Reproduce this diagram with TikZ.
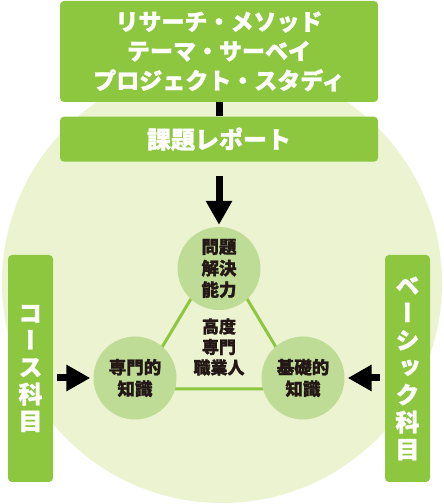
\documentclass[tikz,border=0pt]{standalone}
\usepackage{fontspec}
\setmainfont{Noto Sans CJK JP}[BoldFeatures={FakeBold=1.2}]
\newfontfamily\vertjp{Noto Sans CJK JP}[RawFeature=+vert, BoldFeatures={FakeBold=1.2}]
\usetikzlibrary{arrows.meta}

\definecolor{leafgreen}{RGB}{141,198,63}
\definecolor{palegreen}{RGB}{236,243,208}
\definecolor{midgreen}{RGB}{190,220,150}
\definecolor{inkblack}{RGB}{35,24,21}

\begin{document}
\begin{tikzpicture}[
    x=1pt, y=1pt,
    greenbox/.style={rectangle, fill=leafgreen, rounded corners=4pt, inner sep=0pt, text=white, align=center},
    knowbox/.style={circle, fill=midgreen, minimum size=83pt, inner sep=0pt, align=center, text=inkblack, font=\fontsize{17.5}{21.5}\selectfont\bfseries},
    bigarrow/.style={-{Triangle[width=25pt,length=24pt]}, line width=7pt, black},
    link/.style={line width=3pt, leafgreen}
]
\useasboundingbox (0,0) rectangle (444,504);

% Background
\fill[palegreen] (222,221) circle (220);

% Study boxes
\node[greenbox, minimum width=318pt, minimum height=101pt, font=\fontsize{23}{29.5}\selectfont\bfseries] (methods) at (219,452.5) {リサーチ・メソッド\\テーマ・サーベイ\\プロジェクト・スタディ};
\node[greenbox, minimum width=318pt, minimum height=45pt, font=\fontsize{24}{28}\selectfont\bfseries] (report) at (219,364.8) {課題レポート};

% Side courses
\node[greenbox, minimum width=45pt, minimum height=227pt, font=\vertjp\fontsize{24}{27}\selectfont\bfseries] (course) at (30.5,135.5) {コ\\ー\\ス\\科\\目};
\node[greenbox, minimum width=45pt, minimum height=227pt, font=\vertjp\fontsize{24}{27.3}\selectfont\bfseries] (basicbox) at (407.5,135.5) {ベ\\ー\\シ\\ッ\\ク\\科\\目};

% Triangle
\coordinate (apex) at (219,252);
\coordinate (baseL) at (137,115);
\coordinate (baseR) at (301,115);
\draw[link] (apex) -- (baseL) -- (baseR) -- cycle;

% Abilities
\node[knowbox] (problem) at (219,235.5) {問題\\解決\\能力};
\node[knowbox] (special) at (135,126) {専門的\\知識};
\node[knowbox] (basic) at (303,126) {基礎的\\知識};
\node[text=inkblack, align=center, font=\fontsize{17}{20.5}\selectfont\bfseries] (pro) at (219,157) {高度\\専門\\職業人};

% Connectors
\draw[line width=7pt] (methods) -- (report);
\draw[bigarrow, shorten <=14pt, shorten >=2pt] (report) -- (problem);
\draw[bigarrow, shorten <=4pt, shorten >=3pt] (course.east |- special) -- (special);
\draw[bigarrow, shorten <=5pt, shorten >=3pt] (basicbox.west |- basic) -- (basic);

\end{tikzpicture}
\end{document}
